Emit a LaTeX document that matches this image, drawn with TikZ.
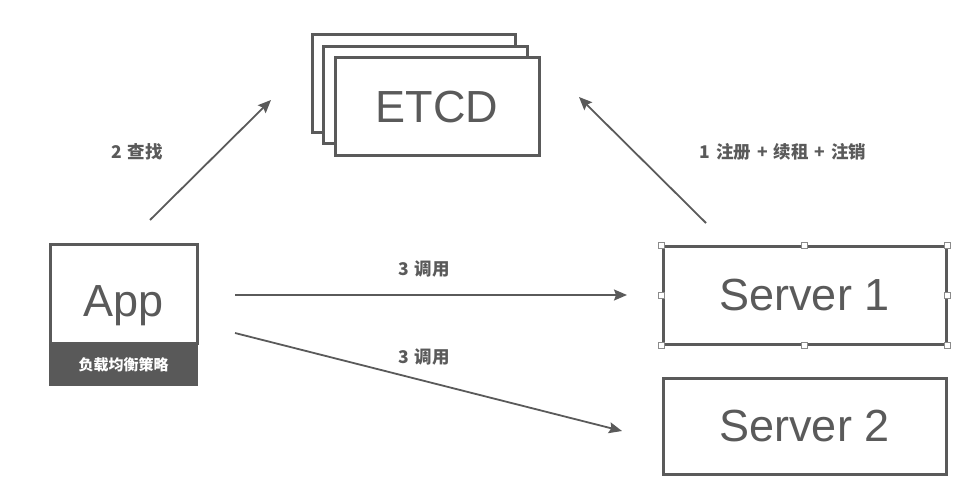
\documentclass[tikz,border=0pt]{standalone}
\usepackage{fontspec}
\setmainfont{Liberation Sans}
\newfontfamily\cjk{Noto Sans CJK SC}
\usetikzlibrary{arrows.meta}
\definecolor{ink}{HTML}{5A5A5A}
\definecolor{band}{HTML}{595959}
\tikzset{
  box/.style={draw=ink, line width=3pt, fill=white, rectangle, inner sep=0pt, text=ink, font=\fontsize{45}{54}\selectfont},
  conn/.style={draw=ink, line width=1.8pt, -{Stealth[length=13pt,width=11pt,inset=2pt]}},
  lbl/.style={text=ink, font=\cjk\bfseries\fontsize{17.5}{20}\selectfont, inner sep=0pt},
  handle/.style={draw=ink!70, line width=0.6pt, fill=white, minimum size=6pt, inner sep=0pt, rectangle}
}
\begin{document}
\begin{tikzpicture}[x=1pt,y=-1pt]
\useasboundingbox (0,0) rectangle (980,497);
% ETCD stack
\node[box, minimum width=203pt, minimum height=98pt] (e3) at (413.5,84) {};
\node[box, minimum width=204pt, minimum height=97pt] (e2) at (425,95.5) {};
\node[box, minimum width=204pt, minimum height=98pt] (etcd) at (437,107) {ETCD};
% App
\node[box, minimum width=147pt, minimum height=98pt] (app) at (123.5,294) {\raisebox{-22pt}[0pt][0pt]{App}};
\node[fill=band, minimum width=148.5pt, minimum height=42pt, inner sep=0pt, text=white, font=\cjk\bfseries\fontsize{15}{18}\selectfont] (lb) at (123.5,365) {负载均衡策略};
% Servers
\node[box, minimum width=283pt, minimum height=97pt] (s1) at (804.5,295.5) {Server 1};
\node[box, minimum width=283pt, minimum height=96pt] (s2) at (804.5,426) {Server 2};
% selection handles
\foreach \a in {north west,north,north east,east,south east,south,south west,west}
  \node[handle] (h-\a) at (s1.\a) {};
% connector ends
\coordinate (a1) at (150,220); \coordinate (a2) at (271,100);
\coordinate (b1) at (706,223); \coordinate (b2) at (579,97);
\coordinate (c1) at (235,295); \coordinate (c2) at (627,295);
\coordinate (d1) at (235,333); \coordinate (d2) at (622,431);
\draw[conn] (a1) -- (a2);
\draw[conn] (b1) -- (b2);
\draw[conn] (c1) -- (c2);
\draw[conn] (d1) -- (d2);
% labels
\node[lbl] (l1) at (137,152) {2\,\,查找};
\node[lbl] (l2) at (783,152) {1\,\,注册\,\,+\,\,续租\,\,+\,\,注销};
\node[lbl] (l3) at (424,269) {3\,\,调用};
\node[lbl] (l4) at (424,357) {3\,\,调用};
\end{tikzpicture}
\end{document}
